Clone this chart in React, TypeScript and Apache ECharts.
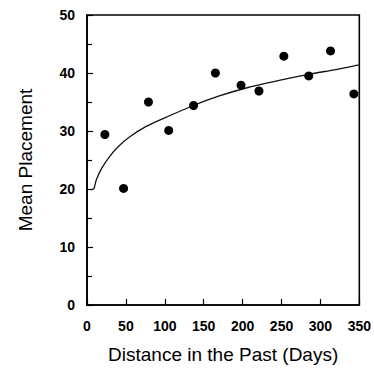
import React, { useEffect, useRef } from "react";
import * as echarts from "echarts";

const xTicks = [0, 50, 100, 150, 200, 250, 300, 350];
const yTicks = [0, 10, 20, 30, 40, 50];

const pointDays = [23, 47, 79, 105, 137, 165, 198, 221, 253, 285, 313, 343];
const pointPlacement = [29.4, 20.1, 35.0, 30.1, 34.4, 40.0, 37.9, 36.9, 42.9, 39.5, 43.8, 36.4];

const fitDays = [6, 9, 12, 19, 29, 40, 55, 76, 97, 137, 169, 207, 250, 286, 320, 349];
const fitPlacement = [19.9, 20.1, 21.6, 23.6, 25.6, 27.3, 29.0, 30.8, 32.1, 34.4, 36.0, 37.5, 38.8, 39.8, 40.6, 41.4];

export default function App() {
  const ref = useRef<HTMLDivElement>(null);
  useEffect(() => {
    if (!ref.current) return;
    const chart = echarts.init(ref.current, null, { renderer: "svg" });
    const font = "'Liberation Sans', Arial, sans-serif";
    chart.setOption({
      animation: false,
      backgroundColor: "#fff",
      grid: {
        left: 87,
        right: 12,
        top: 15,
        bottom: 66,
        show: true,
        borderColor: "#000",
        borderWidth: 1.6,
      },
      xAxis: {
        type: "value",
        min: xTicks[0],
        max: xTicks[xTicks.length - 1],
        interval: 50,
        name: "Distance in the Past (Days)",
        nameLocation: "middle",
        nameGap: 40,
        nameTextStyle: { fontFamily: font, fontSize: 19, color: "#000" },
        axisLine: { show: true, lineStyle: { color: "#000", width: 1.6 } },
        axisTick: { show: true, inside: true, length: 6, lineStyle: { color: "#000", width: 1.2 } },
        axisLabel: {
          fontFamily: font,
          fontSize: 14,
          fontWeight: "bold",
          color: "#000",
          margin: 14,
          showMinLabel: true,
          showMaxLabel: true,
        },
        splitLine: { show: false },
      },
      yAxis: {
        type: "value",
        min: yTicks[0],
        max: yTicks[yTicks.length - 1],
        interval: 10,
        name: "Mean Placement",
        nameLocation: "middle",
        nameGap: 52,
        nameTextStyle: { fontFamily: font, fontSize: 19, color: "#000" },
        axisLine: { show: true, lineStyle: { color: "#000", width: 1.6 } },
        axisTick: { show: true, inside: true, length: 6, lineStyle: { color: "#000", width: 1.2 } },
        minorTick: { show: true, splitNumber: 2, length: 5, lineStyle: { color: "#000", width: 1.2 } },
        axisLabel: {
          fontFamily: font,
          fontSize: 14,
          fontWeight: "bold",
          color: "#000",
          margin: 12,
        },
        splitLine: { show: false },
      },
      series: [
        {
          type: "line",
          data: fitDays.map((d, i) => [d, fitPlacement[i]]),
          smooth: 0.25,
          showSymbol: false,
          symbol: "none",
          lineStyle: { color: "#111", width: 1.3 },
          z: 2,
        },
        {
          type: "scatter",
          data: pointDays.map((d, i) => [d, pointPlacement[i]]),
          symbol: "circle",
          symbolSize: 9,
          itemStyle: { color: "#000", opacity: 1 },
          z: 3,
        },
      ],
    });
    return () => chart.dispose();
  }, []);
  return <div ref={ref} style={{ width: 374, height: 371, position: "absolute", left: 0, top: 0 }} />;
}
